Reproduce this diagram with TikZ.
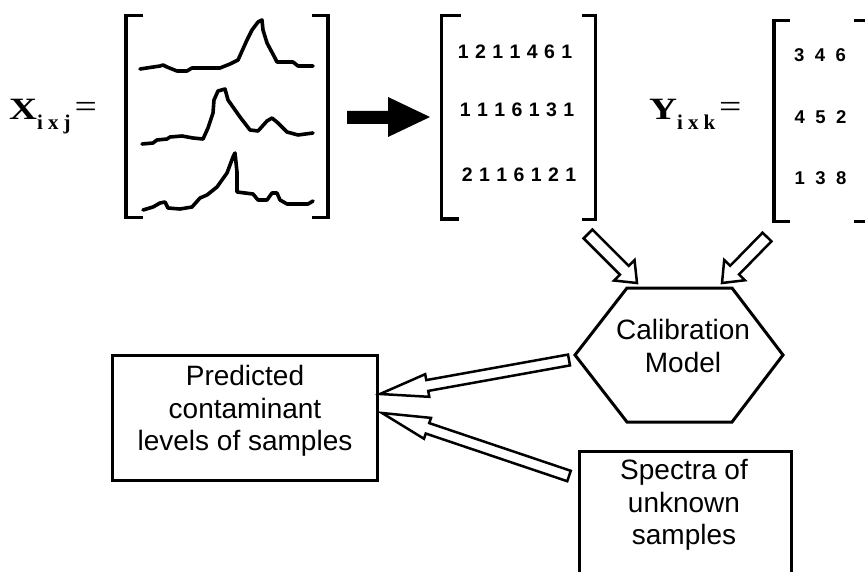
\documentclass[tikz,border=0pt]{standalone}
\usepackage{graphicx}
\usepackage{fontspec}
\setmainfont{Liberation Sans}
\newfontfamily\serifbf{Liberation Serif}
\usetikzlibrary{calc}

% hollow block arrow: #1 tail, #2 tip, #3 shaft half-width, #4 head half-width, #5 head length
\newcommand\hollowarrow[5]{%
  \path[hollow] ($(#1)!#3!90:(#2)$)
    -- ($(#2)!#5!(#1)!#3!-90:(#1)$)
    -- ($(#2)!#5!(#1)!#4!-90:(#1)$)
    -- (#2)
    -- ($(#2)!#5!(#1)!#4!90:(#1)$)
    -- ($(#2)!#5!(#1)!#3!90:(#1)$)
    -- ($(#1)!#3!-90:(#2)$) -- cycle;}

% matrix name with subscript and equals sign
\newcommand\matname[2]{\serifbf\bfseries\fontsize{31}{31}\selectfont\scalebox{1.25}[1]{#1}%
  \raisebox{-10pt}{\fontsize{21}{21}\selectfont\spaceskip=5pt\relax #2}\hspace{4pt}%
  \mdseries\fontsize{33}{33}\selectfont\raisebox{2.5pt}{\scalebox{1.2}[1]{=}}}

\tikzset{
  bracket/.style={line width=3.5pt, line cap=butt, line join=miter},
  spectrum/.style={line width=3.6pt, line join=round, line cap=round},
  boxline/.style={draw, line width=3pt, line join=miter},
  hollow/.style={draw, fill=white, line width=2.5pt, line join=miter},
  boxtext/.style={font={\fontsize{28}{32.5}\selectfont}, align=center, inner sep=0pt},
  bigdigits/.style={font={\fontsize{19.5}{19.5}\selectfont\bfseries\spaceskip=6.4pt\relax}, inner sep=0pt},
  smalldigits/.style={font={\fontsize{18.5}{18.5}\selectfont\bfseries\spaceskip=10.5pt\relax}, inner sep=0pt},
  matlabel/.style={anchor=base west, inner sep=0pt},
}

\begin{document}
\begin{tikzpicture}[x=1pt, y=-1pt]
\useasboundingbox (0,0) rectangle (865,572);
\clip (0,0) rectangle (865,572);

% ---- spectra matrix X ----
\node[matlabel] (xlab) at (9,120) {\matname{X}{i x j}};

\draw[bracket] (143,15.5) -- (126,15.5) -- (126,217.5) -- (143,217.5);
\draw[bracket] (312,15.5) -- (328,15.5) -- (328,217.5) -- (312,217.5);

\draw[spectrum] plot coordinates {(140,69) (160,66) (163,65) (167,67) (177,71) (187,71) (192,68) (203,68) (220,68) (230,64) (238,60) (247,40) (252,30) (258,22) (262,20) (263,30) (267,43) (275,58) (277,62) (293,62) (298,66) (313,66)};
\draw[spectrum] plot coordinates {(142,144) (153,143) (157,140) (167,139) (170,137) (182,136) (193,138) (203,139) (208,128) (213,113) (214,100) (218,91) (225,89) (228,100) (240,117) (250,130) (258,131) (267,121) (272,118) (278,123) (287,132) (298,135) (313,133)};
\draw[spectrum] plot coordinates {(143,210) (153,207) (160,203) (165,202) (168,208) (180,209) (192,207) (200,198) (207,195) (217,187) (227,173) (233,157) (235,153) (237,172) (237,192) (253,194) (258,200) (267,200) (272,193) (277,193) (280,200) (287,204) (303,204) (308,204) (313,201)};

% ---- digitising arrow ----
\fill (347,111) -- (388,111) -- (388,97) -- (430,117) -- (388,137) -- (388,124) -- (347,124) -- cycle;

% ---- digitised matrix ----
\draw[bracket] (461,15.5) -- (441.5,15.5) -- (441.5,219) -- (459,219);
\draw[bracket] (582,15.5) -- (595.5,15.5) -- (595.5,219.5) -- (582,219.5);
\node[bigdigits] (r1) at (515,52) {1 2 1 1 4 6 1};
\node[bigdigits] (r2) at (517,110) {1 1 1 6 1 3 1};
\node[bigdigits] (r3) at (519,175) {2 1 1 6 1 2 1};

% ---- response matrix Y ----
\node[matlabel] (ylab) at (649,120) {\matname{Y}{i x k}};
\draw[bracket] (790,20.5) -- (774,20.5) -- (774,221.5) -- (790,221.5);
\draw[bracket] (854,20.5) -- (870,20.5) -- (870,221.5) -- (854,221.5);
\node[smalldigits] (y1) at (820,55) {3 4 6};
\node[smalldigits] (y2) at (820.5,117) {4 5 2};
\node[smalldigits] (y3) at (820.5,178) {1 3 8};

% ---- calibration model ----
\coordinate (hexc) at (679,355);
\draw[boxline] ($(hexc)+(-104,0)$) -- ($(hexc)+(-52,-67)$) -- ($(hexc)+(53,-67)$)
  -- ($(hexc)+(104,0)$) -- ($(hexc)+(53,67)$) -- ($(hexc)+(-52,67)$) -- cycle;
\node[boxtext] (calib) at (683,346) {Calibration\\Model};

% ---- result and unknown-sample boxes ----
\node[boxline, minimum width=265pt, minimum height=125pt, inner sep=0pt] (predbox) at (244.5,417.5) {};
\node[boxtext] (pred) at (245,411) {Predicted\\contaminant\\levels of samples};
\node[boxline, minimum width=212pt, minimum height=170pt, anchor=north west, inner sep=0pt] (specbox) at (578,450) {};
\node[boxtext] (spec) at (684,505) {Spectra of\\unknown\\samples};

% ---- hollow arrows ----
\coordinate (a1t) at (588,234);  \coordinate (a1h) at (637,283);
\coordinate (a2t) at (767,237);  \coordinate (a2h) at (722,283);
\coordinate (a3t) at (569,360);  \coordinate (a3h) at (380,394);
\coordinate (a4t) at (569,476);  \coordinate (a4h) at (382,413);
\hollowarrow{a1t}{a1h}{6.2pt}{14.5pt}{18pt}
\hollowarrow{a2t}{a2h}{6.2pt}{14.5pt}{18pt}
\hollowarrow{a3t}{a3h}{5.5pt}{11.5pt}{48pt}
\hollowarrow{a4t}{a4h}{5.5pt}{11pt}{48pt}
\end{tikzpicture}
\end{document}
